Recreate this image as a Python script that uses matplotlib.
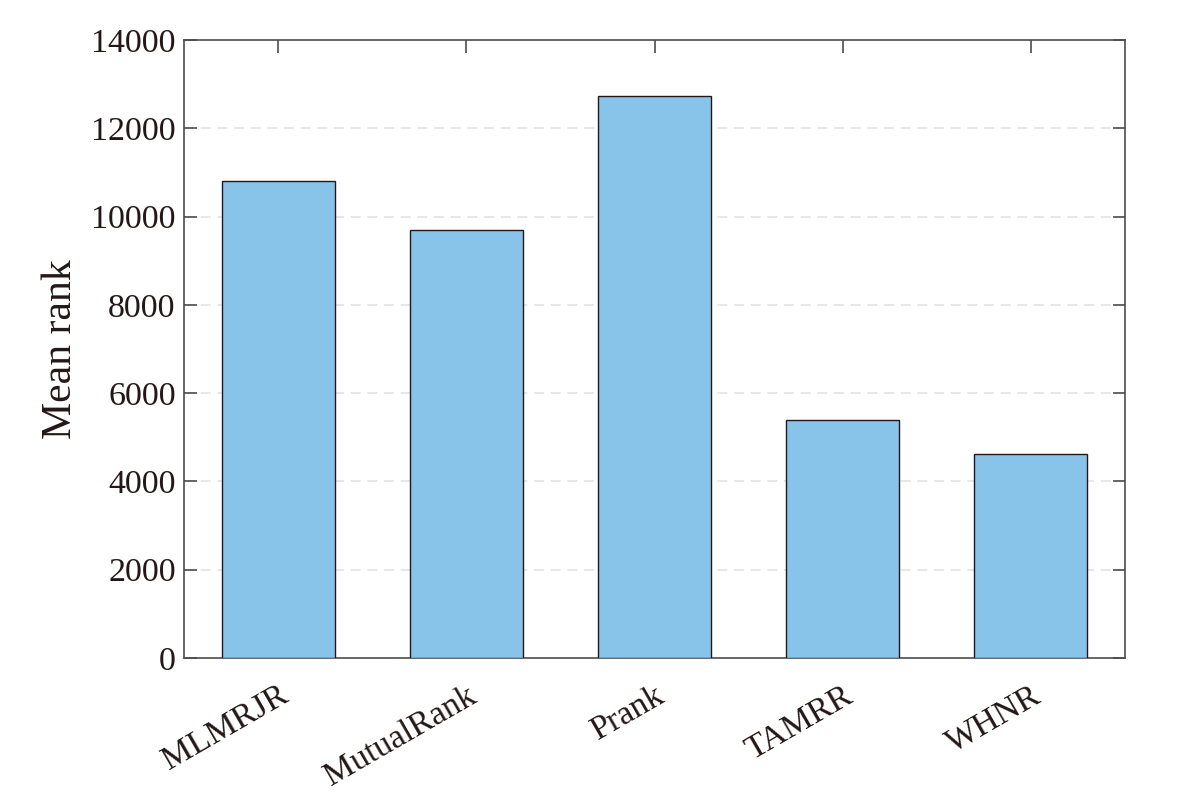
import numpy as np
import matplotlib
matplotlib.use("Agg")
import matplotlib.pyplot as plt

methods = ["MLMRJR", "MutualRank", "Prank", "TAMRR", "WHNR"]
mean_rank = [10806, 9696, 12731, 5392, 4621]
yticks = [0, 2000, 4000, 6000, 8000, 10000, 12000, 14000]

plt.rcParams['font.family'] = ['Liberation Serif', 'DejaVu Serif']
txt = '#231815'
axc = '#4d4d4d'

fig = plt.figure(figsize=(11.89, 8.01), dpi=100)
ax = fig.add_axes([184 / 1189, 1 - 658 / 801, 941 / 1189, 618 / 801])

x = np.arange(1, len(methods) + 1)
ax.bar(x, mean_rank, width=0.6, color='#88c4ea', edgecolor='#231815', linewidth=1.0, zorder=3)

ax.set_xlim(0.5, 5.5)
ax.set_ylim(0, 14000)
ax.set_yticks(yticks)
ax.set_yticklabels([str(v) for v in yticks], fontsize=24.5, color=txt)
ax.set_xticks(x)
ax.set_xticklabels(methods, fontsize=24.5, color=txt, rotation=30, ha='right', rotation_mode='anchor')
ax.set_ylabel("Mean rank", fontsize=30, color=txt, labelpad=8)

for v in yticks[1:-1]:
    ax.axhline(v, color='#e3e3e3', linestyle=(0, (6, 4)), linewidth=1.2, zorder=1)

ax.tick_params(direction='in', top=True, right=True, length=9, width=1.2, color=axc, pad=6)
ax.tick_params(axis='x', pad=16)
for s in ax.spines.values():
    s.set_color(axc)
    s.set_linewidth(1.2)

fig.savefig("out.png", dpi=100)
